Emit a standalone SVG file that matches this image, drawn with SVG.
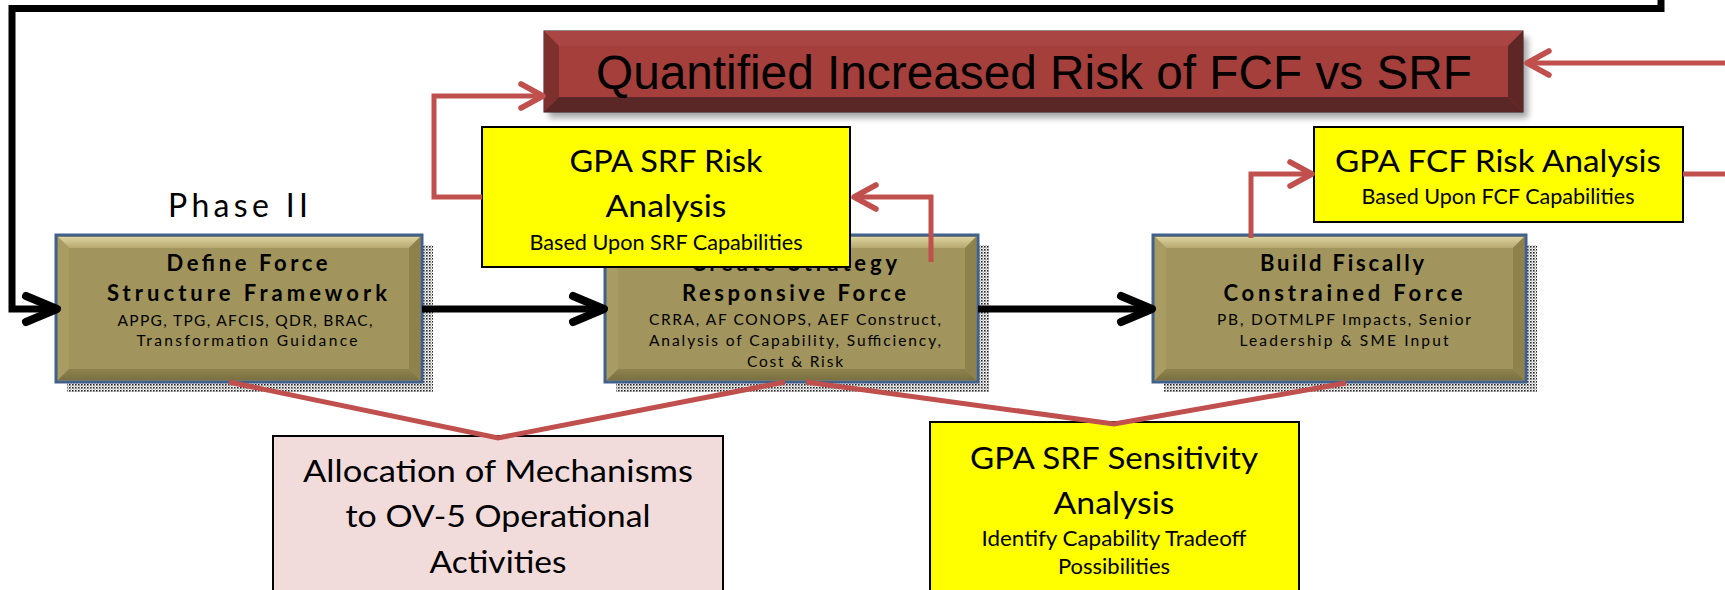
<svg xmlns="http://www.w3.org/2000/svg" width="1725" height="590" viewBox="0 0 1725 590">
<style>
.lato{font-family:Lato,"Liberation Sans",sans-serif;text-anchor:middle;fill:#000}
.ttl{font-weight:700;font-size:22px}
.sub{font-size:15.5px}
.big{font-size:31px}
.sml{font-size:21px}
.phase{font-size:32px}
.qtxt{font-family:"Liberation Sans",Arial,sans-serif;font-size:48px;text-anchor:middle;fill:#000}
.olive{fill:#A1955D;stroke:#41618C;stroke-width:3}
.bt{fill:url(#gTop)}
.bl{fill:#A99C63}
.br{fill:#8E824C}
.bb{fill:url(#gBot)}
.shadow{fill:url(#dots)}
.yel{fill:#FFFF00;stroke:#000;stroke-width:2}
.pink{fill:#F2DCDB;stroke:#000;stroke-width:2}
.blk{fill:none;stroke:#000;stroke-width:7;marker-end:url(#ab)}
.red{fill:none;stroke:#C0504D;stroke-width:5;stroke-linejoin:miter}
.reda{fill:none;stroke:#C0504D;stroke-width:5;marker-end:url(#ar)}
</style>
<defs>
<pattern id="dots" width="3" height="3" patternUnits="userSpaceOnUse">
<rect x="0" y="0" width="1.6" height="1.6" fill="#222"/>
<rect x="1.5" y="1.5" width="1.2" height="1.2" fill="#888"/>
</pattern>
<linearGradient id="gTop" x1="0" y1="0" x2="0" y2="1">
<stop offset="0" stop-color="#DDD39F"/><stop offset="1" stop-color="#B6A96F"/>
</linearGradient>
<linearGradient id="gBot" x1="0" y1="0" x2="0" y2="1">
<stop offset="0" stop-color="#8E834F"/><stop offset="1" stop-color="#7A7040"/>
</linearGradient>
<filter id="blur" x="-5%" y="-20%" width="110%" height="140%"><feGaussianBlur stdDeviation="3"/></filter>
<marker id="ab" markerUnits="userSpaceOnUse" viewBox="-40 -20 50 40" markerWidth="50" markerHeight="40" refX="0" refY="0" orient="auto" overflow="visible">
<path d="M-31,-13 L0,0 L-31,13" fill="none" stroke="#000" stroke-width="8" stroke-linecap="round" stroke-linejoin="round"/>
</marker>
<marker id="ar" markerUnits="userSpaceOnUse" viewBox="-30 -15 40 30" markerWidth="40" markerHeight="30" refX="0" refY="0" orient="auto" overflow="visible">
<path d="M-22,-12 L0,0 L-22,12" fill="none" stroke="#C0504D" stroke-width="5.5" stroke-linecap="round" stroke-linejoin="round"/>
</marker>
</defs>
<rect width="1725" height="590" fill="#fff"/>

<text class="lato phase" x="238" y="217" textLength="140" lengthAdjust="spacing">Phase II</text>

<g id="define-force">
<rect class="shadow" x="67" y="245" width="366" height="147"/>
<rect class="olive" x="56" y="235" width="366" height="147"/>
<polygon class="bt" points="58,237 420,237 409,248 69,248"/>
<polygon class="bl" points="58,237 69,248 69,369 58,380"/>
<polygon class="br" points="420,237 420,380 409,369 409,248"/>
<polygon class="bb" points="58,380 420,380 409,369 69,369"/>
<text class="lato ttl" x="247" y="271" textLength="161" lengthAdjust="spacing">Define Force</text>
<text class="lato ttl" x="247" y="301" textLength="280" lengthAdjust="spacing">Structure Framework</text>
<text class="lato sub" x="245" y="326" textLength="255" lengthAdjust="spacing">APPG, TPG, AFCIS, QDR, BRAC,</text>
<text class="lato sub" x="247" y="346" textLength="221" lengthAdjust="spacing">Transformation Guidance</text>
</g>

<g id="create-strategy">
<rect class="shadow" x="616" y="245" width="373" height="147"/>
<rect class="olive" x="605" y="235" width="373" height="147"/>
<polygon class="bt" points="607,237 976,237 965,248 618,248"/>
<polygon class="bl" points="607,237 618,248 618,369 607,380"/>
<polygon class="br" points="976,237 976,380 965,369 965,248"/>
<polygon class="bb" points="607,380 976,380 965,369 618,369"/>
<text class="lato ttl" x="794" y="271" textLength="206" lengthAdjust="spacing">Create Strategy</text>
<text class="lato ttl" x="794" y="301" textLength="224" lengthAdjust="spacing">Responsive Force</text>
<text class="lato sub" x="795" y="325" textLength="292" lengthAdjust="spacing">CRRA, AF CONOPS, AEF Construct,</text>
<text class="lato sub" x="795" y="346" textLength="292" lengthAdjust="spacing">Analysis of Capability, Sufficiency,</text>
<text class="lato sub" x="795" y="367" textLength="96" lengthAdjust="spacing">Cost &amp; Risk</text>
</g>

<g id="build-fiscally">
<rect class="shadow" x="1164" y="245" width="373" height="147"/>
<rect class="olive" x="1153" y="235" width="373" height="147"/>
<polygon class="bt" points="1155,237 1524,237 1513,248 1166,248"/>
<polygon class="bl" points="1155,237 1166,248 1166,369 1155,380"/>
<polygon class="br" points="1524,237 1524,380 1513,369 1513,248"/>
<polygon class="bb" points="1155,380 1524,380 1513,369 1166,369"/>
<text class="lato ttl" x="1342" y="271" textLength="164" lengthAdjust="spacing">Build Fiscally</text>
<text class="lato ttl" x="1343" y="301" textLength="239" lengthAdjust="spacing">Constrained Force</text>
<text class="lato sub" x="1344" y="325" textLength="254" lengthAdjust="spacing">PB, DOTMLPF Impacts, Senior</text>
<text class="lato sub" x="1344" y="346" textLength="209" lengthAdjust="spacing">Leadership &amp; SME Input</text>
</g>

<g id="quantified-risk">
<rect x="549" y="37" width="979" height="81" fill="#000" opacity="0.35" filter="url(#blur)"/>
<rect x="544" y="31" width="979" height="81" fill="#A43F3C" stroke="#2A1414" stroke-width="1"/>
<polygon points="544,31 1523,31 1508,46 559,46" fill="#A94542"/>
<polygon points="544,31 559,46 559,97 544,112" fill="#7E302E"/>
<polygon points="1523,31 1523,112 1508,97 1508,46" fill="#5E2625"/>
<polygon points="544,112 1523,112 1508,97 559,97" fill="#5A2626"/>
<text class="qtxt" x="1034" y="89" textLength="876" lengthAdjust="spacingAndGlyphs">Quantified Increased Risk of FCF vs SRF</text>
</g>

<g id="srf-risk">
<rect class="yel" x="482" y="127" width="368" height="140"/>
<text class="lato big" x="666" y="172" textLength="193" lengthAdjust="spacingAndGlyphs">GPA SRF Risk</text>
<text class="lato big" x="666" y="217" textLength="121" lengthAdjust="spacingAndGlyphs">Analysis</text>
<text class="lato sml" x="666" y="250" textLength="273" lengthAdjust="spacingAndGlyphs">Based Upon SRF Capabilities</text>
</g>

<g id="fcf-risk">
<rect class="yel" x="1314" y="127" width="369" height="95"/>
<text class="lato big" x="1498" y="172" textLength="326" lengthAdjust="spacingAndGlyphs">GPA FCF Risk Analysis</text>
<text class="lato sml" x="1498" y="204" textLength="273" lengthAdjust="spacingAndGlyphs">Based Upon FCF Capabilities</text>
</g>

<g id="allocation">
<rect class="pink" x="273" y="436" width="450" height="170"/>
<text class="lato big" x="498" y="482" textLength="390" lengthAdjust="spacingAndGlyphs">Allocation of Mechanisms</text>
<text class="lato big" x="498" y="527" textLength="305" lengthAdjust="spacingAndGlyphs">to OV-5 Operational</text>
<text class="lato big" x="498" y="573" textLength="137" lengthAdjust="spacingAndGlyphs">Activities</text>
</g>

<g id="sensitivity">
<rect class="yel" x="930" y="422" width="369" height="184"/>
<text class="lato big" x="1114" y="469" textLength="288" lengthAdjust="spacingAndGlyphs">GPA SRF Sensitivity</text>
<text class="lato big" x="1114" y="514" textLength="121" lengthAdjust="spacingAndGlyphs">Analysis</text>
<text class="lato sml" x="1114" y="546" textLength="265" lengthAdjust="spacingAndGlyphs">Identify Capability Tradeoff</text>
<text class="lato sml" x="1114" y="574" textLength="112" lengthAdjust="spacingAndGlyphs">Possibilities</text>
</g>

<g id="connectors">
<path class="blk" d="M1661,0 V8.5 H12 V309 H57"/>
<path class="blk" d="M422,309 H604"/>
<path class="blk" d="M978,309 H1152"/>
<path class="reda" d="M482,197 H434 V96 H543"/>
<path class="reda" d="M931,262 V197 H854"/>
<path class="reda" d="M1251,238 V174 H1312"/>
<path class="red" d="M1683,174 H1725"/>
<path class="reda" d="M1725,63 H1527"/>
<path class="red" d="M229,382 L498,438 L785,382"/>
<path class="red" d="M806,382 L1114,424 L1346,383"/>
</g>
</svg>
